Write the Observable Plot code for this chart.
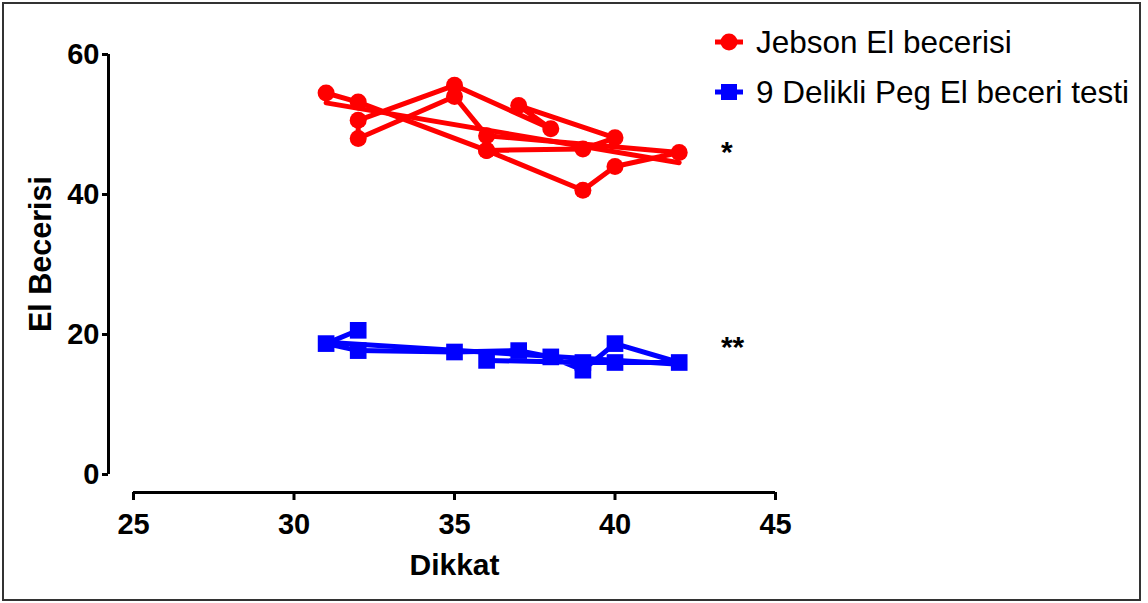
<!DOCTYPE html>
<html><head><meta charset="utf-8">
<script src="https://cdn.jsdelivr.net/npm/d3@7"></script>
<script src="https://cdn.jsdelivr.net/npm/@observablehq/plot@0.6"></script>
<style>
body{margin:0;background:#fff;font-family:"Liberation Sans",Arial,sans-serif;}
#wrap{position:relative;width:1148px;height:603px;overflow:hidden;background:#fff;}
#border{position:absolute;left:2px;top:2px;width:1135px;height:595px;border:2px solid #333;pointer-events:none;}
#legend{position:absolute;left:714px;top:17px;}
.item{display:flex;align-items:center;height:50px;font-size:31.5px;color:#000;white-space:nowrap;}
.item svg{margin-right:12px;}
#ytitle{position:absolute;left:40px;top:254px;transform:translate(-50%,-50%) rotate(-90deg);font-weight:bold;font-size:30.5px;white-space:nowrap;color:#000;}
</style></head><body>
<div id="wrap"><div id="chart"></div><div id="ytitle"></div><div id="legend"></div><div id="border"></div></div>
<script>
// ---- data ----
const seriesNames = ["Jebson El becerisi", "9 Delikli Peg El beceri testi"];
const seriesColors = ["#ff0000", "#0000ff"];
const seriesSymbols = ["circle", "square"];

// Jebson (row order as connected)
const jebsonDikkat = [31, 32, 36, 39, 40, 42, 36, 35, 32, 32, 35, 38, 37, 40, 39, 36];
const jebsonScore  = [54.5, 53.2, 46.3, 40.6, 44.0, 46.0, 48.4, 54.0, 48.0, 50.6, 55.6, 49.4, 52.7, 48.1, 46.5, 46.3];

// 9 Delikli Peg (row order as connected)
const pegDikkat = [32, 31, 32, 35, 37, 38, 39, 40, 42, 40, 39, 36];
const pegScore  = [20.6, 18.7, 17.7, 17.5, 17.7, 16.8, 14.9, 18.7, 16.0, 16.0, 16.0, 16.3];

const xTicks = [25, 30, 35, 40, 45];
const yTicks = [0, 20, 40, 60];
const xTitle = "Dikkat";
const yTitle = "El Becerisi";
const sigLabels = ["*", "**"];
const sigX = [43.3, 43.3];
const sigY = [46.0, 18.1];

// ---- build tables ----
const jebson = jebsonDikkat.map((x, i) => ({x, y: jebsonScore[i]}));
const peg = pegDikkat.map((x, i) => ({x, y: pegScore[i]}));
const sig = sigLabels.map((t, i) => ({t, x: sigX[i], y: sigY[i]}));

const lw = 5;
const chart = Plot.plot({
  width: 1148,
  height: 603,
  marginLeft: 133,
  marginRight: 373,
  marginTop: 54,
  marginBottom: 129,
  style: {fontFamily: "'Liberation Sans', Arial, sans-serif", color: "#000", background: "transparent", overflow: "visible"},
  x: {domain: [25, 45]},
  y: {domain: [0, 60]},
  marks: [
    // axes (Prism-style offset)
    Plot.ruleX([xTicks[0]], {y1: yTicks[0], y2: yTicks[yTicks.length - 1], dx: -25, stroke: "#000", strokeWidth: 3}),
    Plot.axisY({ticks: yTicks, tickSize: 6, dx: -25, tickPadding: 3, fontSize: 29, fontWeight: "bold", strokeWidth: 3, label: null}),
    Plot.ruleY([yTicks[0]], {x1: xTicks[0], x2: xTicks[xTicks.length - 1], dy: 18, stroke: "#000", strokeWidth: 3}),
    Plot.axisX({ticks: xTicks, tickSize: 8, dy: 18, tickPadding: 13, fontSize: 29, fontWeight: "bold", strokeWidth: 3, label: null}),
    Plot.text([xTitle], {frameAnchor: "bottom", dy: 91, fontSize: 30, fontWeight: "bold", lineAnchor: "middle"}),
    // Jebson
    Plot.line(jebson, {x: "x", y: "y", stroke: seriesColors[0], strokeWidth: lw, strokeLinejoin: "round"}),
    Plot.linearRegressionY(jebson, {x: "x", y: "y", stroke: seriesColors[0], strokeWidth: lw, ci: 0}),
    Plot.dot(jebson, {x: "x", y: "y", r: 8.5, fill: seriesColors[0], symbol: seriesSymbols[0]}),
    // Peg
    Plot.line(peg, {x: "x", y: "y", stroke: seriesColors[1], strokeWidth: lw, strokeLinejoin: "round"}),
    Plot.linearRegressionY(peg, {x: "x", y: "y", stroke: seriesColors[1], strokeWidth: lw, ci: 0}),
    Plot.dot(peg, {x: "x", y: "y", r: 9.4, fill: seriesColors[1], symbol: seriesSymbols[1]}),
    // significance marks
    Plot.text(sig, {x: "x", y: "y", text: "t", textAnchor: "start", fontSize: 30, fontWeight: "bold"})
  ]
});
document.getElementById("chart").appendChild(chart);
document.getElementById("ytitle").textContent = yTitle;

// legend
const legend = d3.select("#legend");
seriesNames.forEach((name, i) => {
  const item = legend.append("div").attr("class", "item");
  const svg = item.append("svg").attr("width", 30).attr("height", 22);
  svg.append("line").attr("x1", 1).attr("x2", 29).attr("y1", 11).attr("y2", 11)
    .attr("stroke", seriesColors[i]).attr("stroke-width", lw);
  if (seriesSymbols[i] === "circle") {
    svg.append("circle").attr("cx", 15).attr("cy", 11).attr("r", 8.5).attr("fill", seriesColors[i]);
  } else {
    svg.append("rect").attr("x", 7).attr("y", 3).attr("width", 16).attr("height", 16).attr("fill", seriesColors[i]);
  }
  item.append("span").text(name);
});
</script>
</body></html>
